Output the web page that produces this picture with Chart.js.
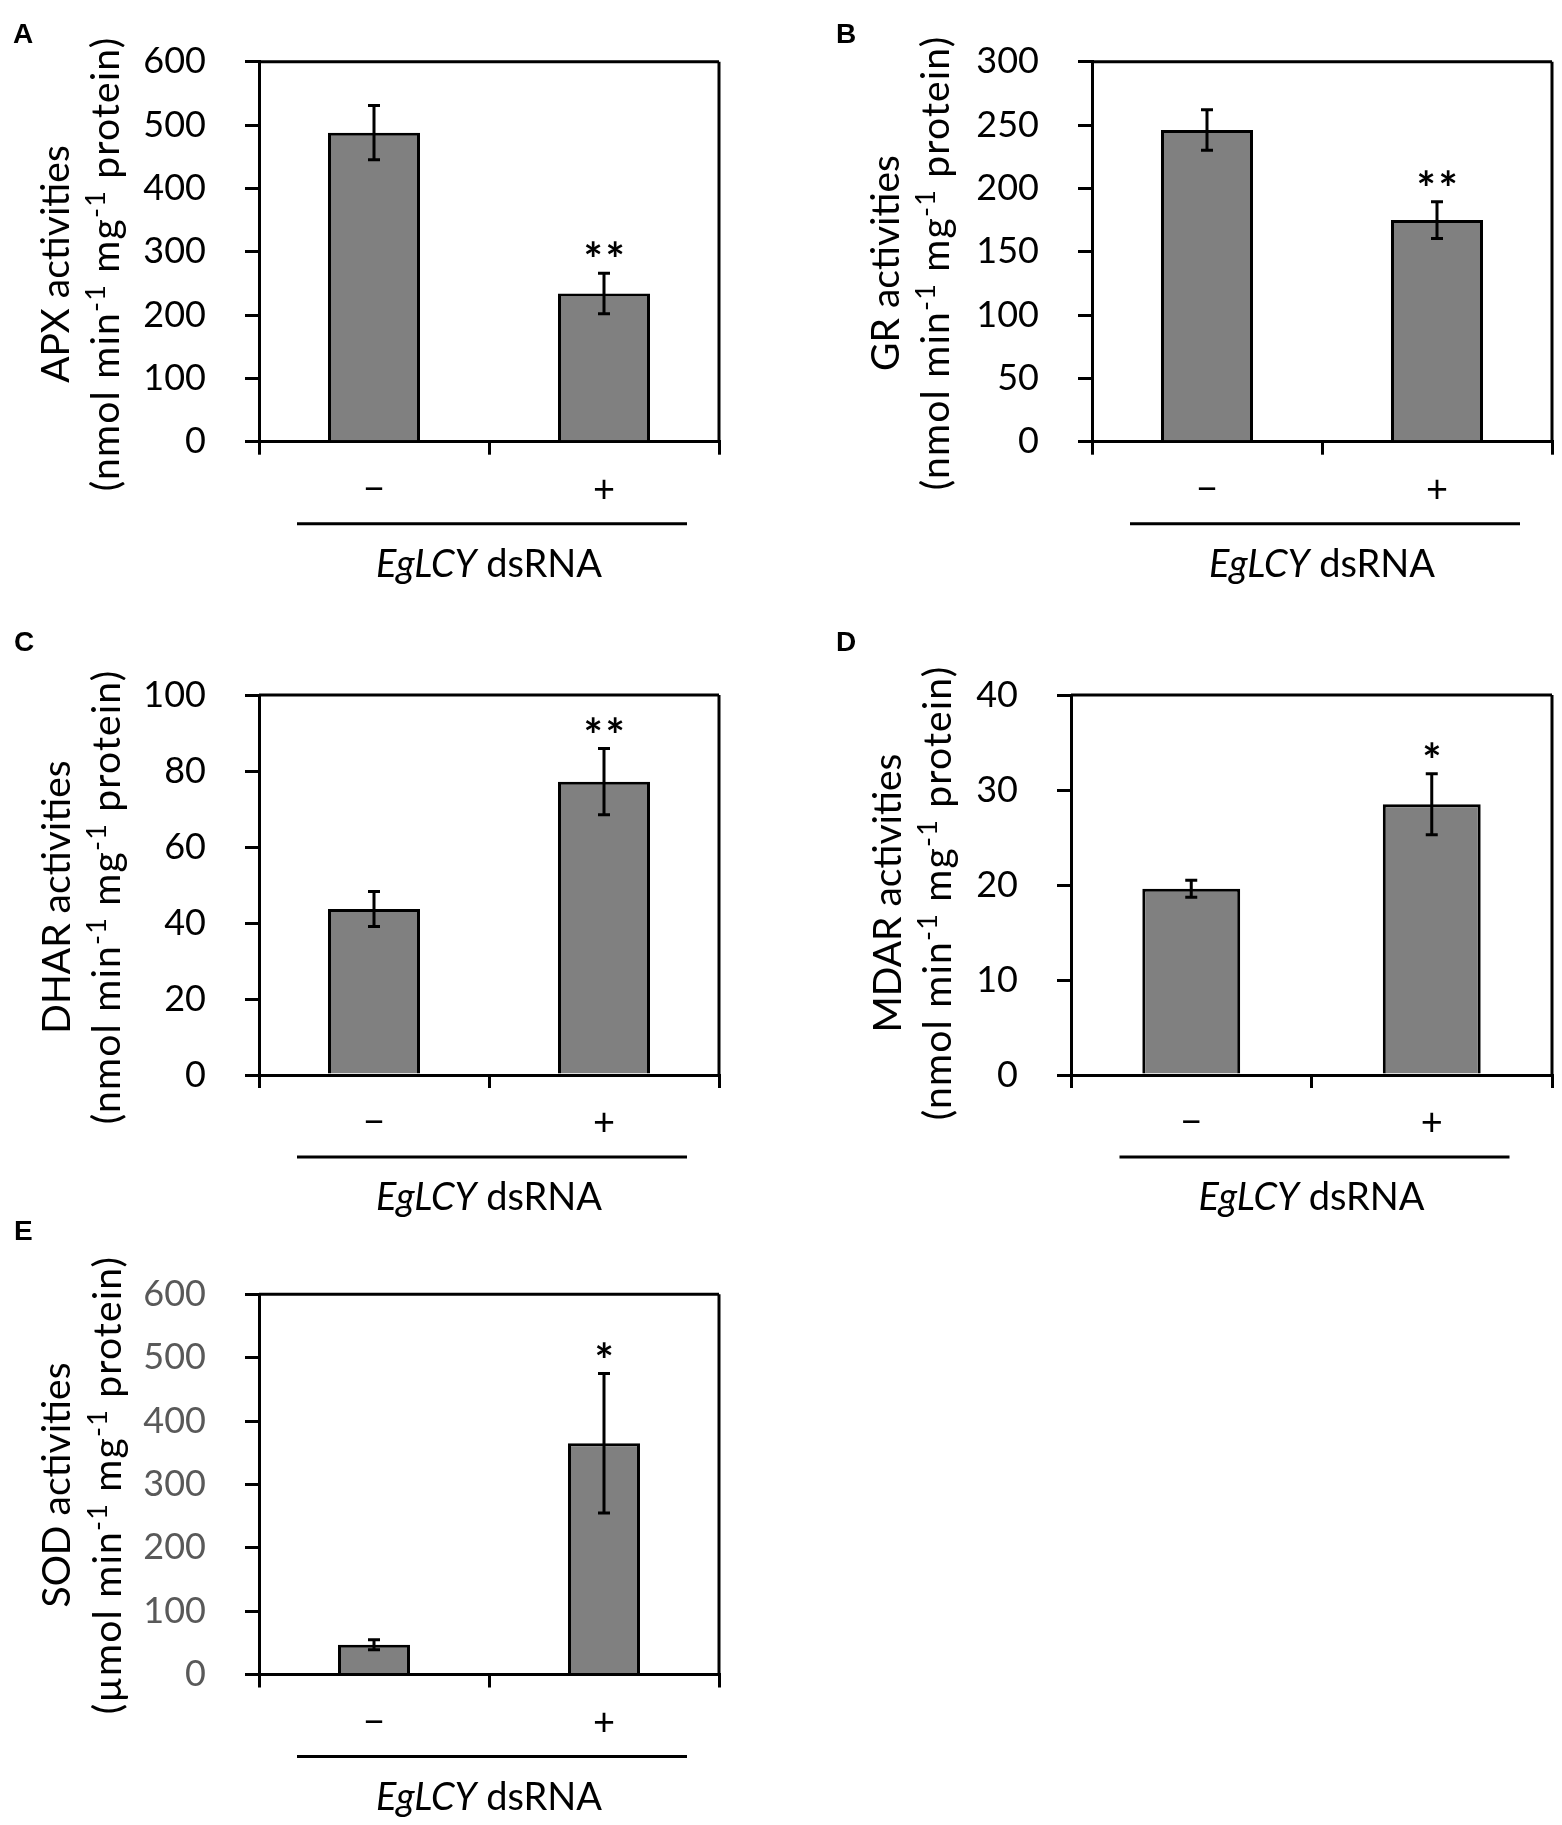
<!DOCTYPE html>
<html><head><meta charset="utf-8">
<script src="https://cdn.jsdelivr.net/npm/chart.js@4.4.1/dist/chart.umd.min.js"></script>
<style>
html,body{margin:0;padding:0;background:#fff;}
#wrap{position:relative;width:1562px;height:1825px;background:#fff;overflow:hidden;}
#wrap canvas{position:absolute;}
</style></head><body><div id="wrap"></div>
<script>
// ---- data ----
const categories = ['\u2212', '+'];
const apxMean = [488, 234];
const apxErr = [43, 32];
const apxSig = ['', '**'];
const grMean = [246, 175];
const grErr = [16, 14.5];
const grSig = ['', '**'];
const dharMean = [43.7, 77.2];
const dharErr = [4.6, 8.7];
const dharSig = ['', '**'];
const mdarMean = [19.6, 28.5];
const mdarErr = [0.9, 3.2];
const mdarSig = ['', '*'];
const sodMean = [47, 365];
const sodErr = [8, 110];
const sodSig = ['', '*'];
const yMaxes = [600, 300, 100, 40, 600];
const ySteps = [100, 50, 20, 10, 100];
const enzymeNames = ['APX', 'GR', 'DHAR', 'MDAR', 'SOD'];
const unitPrefixes = ['nmol', 'nmol', 'nmol', 'nmol', '\u00b5mol'];
const panelLetters = ['A', 'B', 'C', 'D', 'E'];
const treatmentGene = 'EgLCY';
const treatmentRest = ' dsRNA';

// ---- layout (page pixel positions) ----
const boxes = [
  {x:0,   y:0,    w:781, h:600, L:259,  R:719,  T:61.7,  B:441.7,  t1:69,  t2:119, tc:264,  lx:13,  ly:43,   bar:0.40,  tickColor:'#000'},
  {x:781, y:0,    w:781, h:600, L:1092, R:1552, T:61.7,  B:441.7,  t1:899, t2:949, tc:263,  lx:836, ly:43,   bar:0.40,  tickColor:'#000'},
  {x:0,   y:600,  w:781, h:625, L:259,  R:719,  T:695,   B:1075,   t1:70,  t2:120, tc:897,  lx:14,  ly:651,  bar:0.40,  tickColor:'#000'},
  {x:781, y:600,  w:781, h:625, L:1071, R:1552, T:695,   B:1075,   t1:901, t2:951, tc:893,  lx:836, ly:651,  bar:0.407, tickColor:'#000'},
  {x:0,   y:1200, w:781, h:625, L:259,  R:719,  T:1294.3,B:1674.5, t1:70,  t2:121, tc:1485, lx:14,  ly:1240, bar:0.313, tickColor:'#595959'}
];
const means = [apxMean, grMean, dharMean, mdarMean, sodMean];
const errs = [apxErr, grErr, dharErr, mdarErr, sodErr];
const sigs = [apxSig, grSig, dharSig, mdarSig, sodSig];

const FONT = "Lato, 'Open Sans', sans-serif";
const TICK_SIZE = 36, TITLE_SIZE = 39, XT_SIZE = 38;

function drawSegments(ctx, segs, x, y, size, spacing) {
  const fontFor = s => (s.italic ? 'italic ' : '') + Math.round(s.sup ? size * 0.68 : size) + 'px ' + FONT;
  if ('letterSpacing' in ctx) ctx.letterSpacing = (spacing || 0) + 'px';
  let total = 0;
  const widths = segs.map(s => { ctx.font = fontFor(s); const w = ctx.measureText(s.t).width; total += w; return w; });
  let cx = x - total / 2;
  ctx.textAlign = 'left';
  ctx.textBaseline = 'alphabetic';
  segs.forEach((s, i) => {
    ctx.font = fontFor(s);
    ctx.fillText(s.t, cx, s.sup ? y - size * 0.36 : y);
    cx += widths[i];
  });
  if ('letterSpacing' in ctx) ctx.letterSpacing = '0px';
}

function drawStars(ctx, text, xc, yc) {
  ctx.font = 'bold 100px ' + FONT;
  const m0 = ctx.measureText('*');
  const size = 100 * 15 / (m0.actualBoundingBoxLeft + m0.actualBoundingBoxRight);
  ctx.font = 'bold ' + size + 'px ' + FONT;
  const m = ctx.measureText('*');
  ctx.textAlign = 'left';
  ctx.textBaseline = 'alphabetic';
  const base = yc + (m.actualBoundingBoxAscent - m.actualBoundingBoxDescent) / 2;
  const n = text.length;
  for (let k = 0; k < n; k++) {
    const gx = xc + (k - (n - 1) / 2) * 22;
    ctx.fillText('*', gx - (m.actualBoundingBoxRight - m.actualBoundingBoxLeft) / 2, base);
  }
}

const decor = {
  id: 'decor',
  afterDraw(chart) {
    const o = chart.options.plugins.decor;
    const b = o.box, i = o.idx;
    const ctx = chart.ctx;
    const ca = chart.chartArea;
    const ys = chart.scales.y;
    ctx.save();
    ctx.strokeStyle = '#000';
    ctx.fillStyle = '#000';
    ctx.lineWidth = 3;
    // top & right frame
    ctx.beginPath();
    ctx.moveTo(ca.left, ca.top); ctx.lineTo(ca.right, ca.top);
    ctx.moveTo(ca.right, ca.top); ctx.lineTo(ca.right, ca.bottom);
    ctx.stroke();
    // error bars and significance stars
    const meta = chart.getDatasetMeta(0);
    meta.data.forEach((bar, k) => {
      const m = means[i][k], e = errs[i][k];
      const yt = ys.getPixelForValue(m + e), yb = ys.getPixelForValue(m - e);
      ctx.lineWidth = 3;
      ctx.beginPath();
      ctx.moveTo(bar.x, yt); ctx.lineTo(bar.x, yb);
      ctx.moveTo(bar.x - 6, yt); ctx.lineTo(bar.x + 6, yt);
      ctx.moveTo(bar.x - 6, yb); ctx.lineTo(bar.x + 6, yb);
      ctx.stroke();
      if (sigs[i][k]) drawStars(ctx, sigs[i][k], bar.x, yt - 24);
    });
    // y axis title (two lines, rotated)
    const tcy = b.tc - b.y;
    ctx.save();
    ctx.translate(b.t1 - b.x, tcy);
    ctx.rotate(-Math.PI / 2);
    drawSegments(ctx, [{t: enzymeNames[i] + ' activities'}], 0, 0, TITLE_SIZE, 0);
    ctx.restore();
    ctx.save();
    ctx.translate(b.t2 - b.x, tcy);
    ctx.rotate(-Math.PI / 2);
    drawSegments(ctx, [
      {t: '(' + unitPrefixes[i] + ' min'}, {t: '-1', sup: true},
      {t: ' mg'}, {t: '-1', sup: true}, {t: ' protein)'}
    ], 0, 0, TITLE_SIZE, 1.2);
    ctx.restore();
    // underline and treatment label
    const mid = (ca.left + ca.right) / 2;
    ctx.lineWidth = 3;
    ctx.beginPath();
    ctx.moveTo(mid - 192, ca.bottom + 82);
    ctx.lineTo(mid + 198, ca.bottom + 82);
    ctx.stroke();
    drawSegments(ctx, [{t: treatmentGene, italic: true}, {t: treatmentRest}], mid, ca.bottom + 135, XT_SIZE, 0);
    // panel letter
    ctx.font = "bold 28px 'Liberation Sans', Arial, sans-serif";
    ctx.textAlign = 'left';
    ctx.textBaseline = 'alphabetic';
    ctx.fillText(panelLetters[i], b.lx - b.x, b.ly - b.y);
    ctx.restore();
  }
};

const wrap = document.getElementById('wrap');
boxes.forEach((b, i) => {
  const cv = document.createElement('canvas');
  cv.width = b.w; cv.height = b.h;
  cv.style.left = b.x + 'px'; cv.style.top = b.y + 'px';
  cv.style.width = b.w + 'px'; cv.style.height = b.h + 'px';
  wrap.appendChild(cv);
  const xH = 60;
  new Chart(cv, {
    type: 'bar',
    data: {
      labels: categories,
      datasets: [{
        data: means[i],
        backgroundColor: '#808080',
        borderColor: '#000',
        borderWidth: 3,
        categoryPercentage: 1,
        barPercentage: b.bar
      }]
    },
    options: {
      responsive: false,
      animation: false,
      devicePixelRatio: 1,
      layout: {padding: {left: 0, top: b.T - b.y, right: b.x + b.w - b.R, bottom: b.h - (b.B - b.y) - xH}},
      plugins: {legend: {display: false}, tooltip: {enabled: false}, decor: {box: b, idx: i}},
      scales: {
        x: {
          offset: true,
          grid: {display: true, drawOnChartArea: false, drawTicks: true, tickLength: 13, color: '#000', lineWidth: 3, offset: true},
          border: {display: true, color: '#000', width: 3},
          ticks: {color: '#000', font: {family: FONT, size: XT_SIZE}, padding: 12, maxRotation: 0, autoSkip: false},
          afterFit: s => { s.height = xH; }
        },
        y: {
          min: 0, max: yMaxes[i],
          grid: {display: true, drawOnChartArea: false, drawTicks: true, tickLength: 14, color: '#000', lineWidth: 3},
          border: {display: true, color: '#000', width: 3},
          ticks: {stepSize: ySteps[i], color: b.tickColor, font: {family: FONT, size: TICK_SIZE}, padding: 39},
          afterFit: s => { s.width = b.L - b.x; }
        }
      }
    },
    plugins: [decor]
  });
});
</script>
</body></html>
